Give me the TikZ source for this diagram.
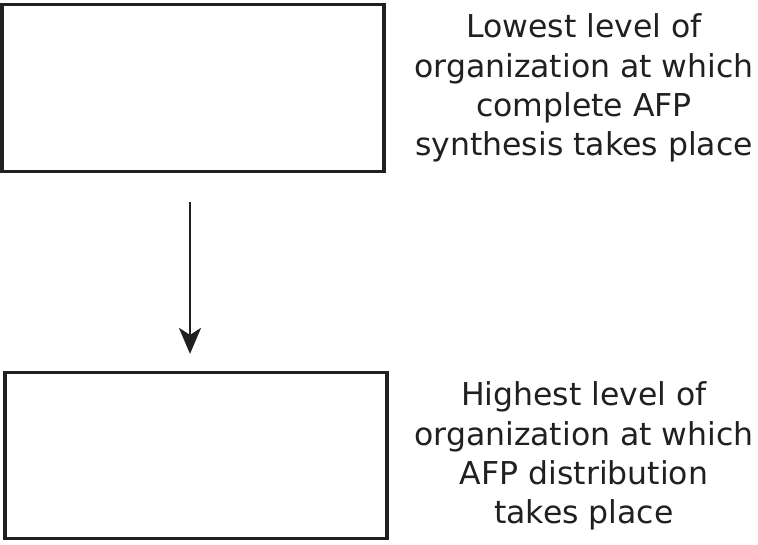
\documentclass[tikz,border=0pt]{standalone}
\usepackage{fontspec}
\setmainfont{DejaVu Sans}
\usetikzlibrary{arrows.meta}
\definecolor{ink}{HTML}{231F20}
\tikzset{
  levelbox/.style={draw=ink, line width=3.2pt, inner sep=0pt},
  caption/.style={text=ink, align=center, font=\fontsize{31.5}{39.2}\selectfont, inner sep=0pt},
  flow/.style={draw=ink, line width=2.6pt, -{Stealth[length=26pt, width=22pt, inset=7pt]}}
}
\begin{document}
\begin{tikzpicture}[x=1pt, y=-1pt]
  \useasboundingbox (0,0) rectangle (758,544);
  % the two organisational levels
  \node[levelbox, minimum width=382pt, minimum height=167pt] (top) at (193,88) {};
  \node[levelbox, minimum width=382pt, minimum height=166pt] (bottom) at (196,455.5) {};
  % descriptions beside the boxes
  \node[caption] (toptext) at (584,88) {Lowest level of\\organization at which\\complete AFP\\synthesis takes place};
  \node[caption] (bottomtext) at (584,456) {Highest level of\\organization at which\\AFP distribution\\takes place};
  % connector between the levels
  \draw[flow, shorten <=29pt, shorten >=17pt]
    ([xshift=-3pt]top.south) -- ([xshift=-6pt]bottom.north);
\end{tikzpicture}
\end{document}
